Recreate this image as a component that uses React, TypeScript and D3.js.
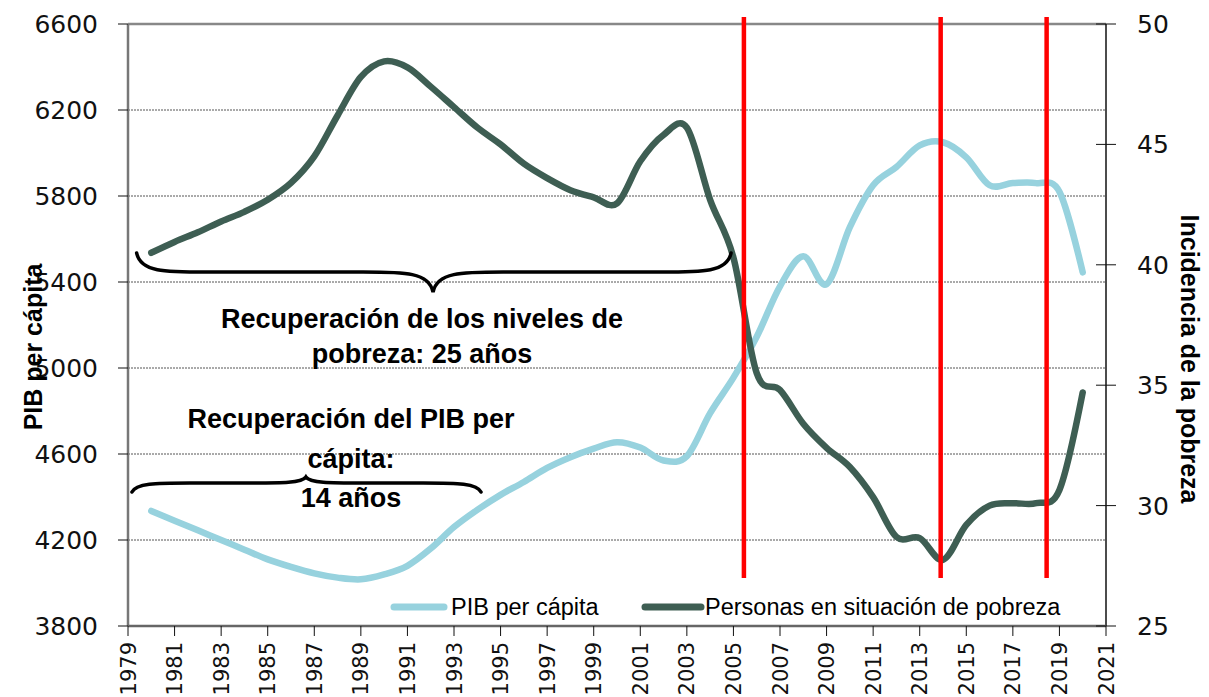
import React from 'react'
import { scaleLinear, line, curveCardinal } from 'd3'

// values
const years = [1980, 1981, 1982, 1983, 1984, 1985, 1986, 1987, 1988, 1989, 1990, 1991, 1992, 1993, 1994, 1995, 1996, 1997, 1998, 1999, 2000, 2001, 2002, 2003, 2004, 2005, 2006, 2007, 2008, 2009, 2010, 2011, 2012, 2013, 2014, 2015, 2016, 2017, 2018, 2019, 2020]
const pibPerCapita = [4335, 4290, 4245, 4200, 4155, 4110, 4075, 4045, 4025, 4017, 4040, 4080, 4160, 4260, 4340, 4410, 4470, 4535, 4585, 4625, 4655, 4630, 4570, 4590, 4790, 4955, 5145, 5380, 5520, 5390, 5655, 5850, 5935, 6035, 6050, 5980, 5850, 5860, 5860, 5820, 5445]
const pobreza = [40.5, 40.95, 41.35, 41.8, 42.2, 42.7, 43.4, 44.5, 46.2, 47.8, 48.45, 48.2, 47.4, 46.55, 45.7, 45.0, 44.2, 43.6, 43.1, 42.8, 42.55, 44.3, 45.4, 45.7, 42.7, 40.3, 35.5, 34.8, 33.4, 32.4, 31.6, 30.35, 28.7, 28.65, 27.75, 29.2, 30.0, 30.1, 30.1, 30.65, 34.7]

const xTicks = [1979, 1981, 1983, 1985, 1987, 1989, 1991, 1993, 1995, 1997, 1999, 2001, 2003, 2005, 2007, 2009, 2011, 2013, 2015, 2017, 2019, 2021]
const leftTicks = [3800, 4200, 4600, 5000, 5400, 5800, 6200, 6600]
const rightTicks = [25, 30, 35, 40, 45, 50]
const markerYears = [2005.45, 2013.9, 2018.45]

const seriesNames = ['PIB per cápita', 'Personas en situación de pobreza']
const noteLines1 = ['Recuperación de los niveles de', 'pobreza: 25 años']
const noteLines2 = ['Recuperación del PIB per', 'cápita:', '14 años']

// braces in data units (years, PIB)
const braces = [
  { x0: 1979.37, x1: 2004.9, tip: 1992.1, yEnd: 5535, yBar: 5446, yTip: 5353 },
  { x0: 1979.17, x1: 1994.16, tip: 1986.64, yEnd: 4423, yBar: 4465, yTip: 4493 },
]

const lightBlue = '#97D2DE'
const darkGreen = '#3E5E53'

const left = 128
const right = 1106
const top = 24
const bottom = 626

export default function App() {
  const x = scaleLinear().domain([1979, 2021]).range([left, right])
  const yL = scaleLinear().domain([3800, 6600]).range([bottom, top])
  const yR = scaleLinear().domain([25, 50]).range([bottom, top])

  const pibLine = line<number>()
    .x((d, i) => x(years[i]))
    .y(d => yL(d))
    .curve(curveCardinal.tension(0))
  const povLine = line<number>()
    .x((d, i) => x(years[i]))
    .y(d => yR(d))
    .curve(curveCardinal.tension(0))

  const bracePath = (b) => {
    const x0 = x(b.x0), x1 = x(b.x1), t = x(b.tip)
    const ye = yL(b.yEnd), yb = yL(b.yBar), yt = yL(b.yTip)
    const r = Math.min(70, (t - x0) / 3)
    return `M${x0},${ye} C${x0 + 4},${yb} ${x0 + r * 0.4},${yb} ${x0 + r},${yb}` +
      ` L${t - r},${yb} C${t - r * 0.4},${yb} ${t - 4},${yb} ${t},${yt}` +
      ` C${t + 4},${yb} ${t + r * 0.4},${yb} ${t + r},${yb}` +
      ` L${x1 - r},${yb} C${x1 - r * 0.4},${yb} ${x1 - 4},${yb} ${x1},${ye}`
  }

  const tickFont = 'DejaVu Sans, Verdana, sans-serif'
  const textFont = 'Liberation Sans, Arial, sans-serif'

  return (
    <svg width={1209} height={697} style={{ position: 'absolute', left: 0, top: 0 }}>
      <rect width={1209} height={697} fill="#fff" />

      {/* gridlines */}
      {leftTicks.slice(1, -1).map(t => (
        <line key={t} x1={left} x2={right} y1={yL(t)} y2={yL(t)} stroke="#555" strokeWidth={1} strokeDasharray="2,1" />
      ))}

      {/* frame */}
      <line x1={left} x2={right} y1={top} y2={top} stroke="#888" strokeWidth={2.5} />
      <line x1={left} x2={left} y1={top} y2={bottom} stroke="#777" strokeWidth={2.5} />
      <line x1={right} x2={right} y1={top} y2={bottom} stroke="#111" strokeWidth={1.5} />
      <line x1={left} x2={right} y1={bottom} y2={bottom} stroke="#666" strokeWidth={2.5} />

      {/* left axis */}
      {leftTicks.map(t => (
        <g key={t}>
          <line x1={left - 10} x2={left} y1={yL(t)} y2={yL(t)} stroke="#111" strokeWidth={1} />
          <text x={98} y={yL(t)} dy="0.36em" textAnchor="end" fontFamily={tickFont} fontSize={25} fill="#111">{t}</text>
        </g>
      ))}

      {/* right axis */}
      {rightTicks.map(t => (
        <g key={t}>
          <line x1={right - 10} x2={right + 10} y1={yR(t)} y2={yR(t)} stroke="#111" strokeWidth={1} />
          <text x={1137} y={yR(t)} dy="0.36em" textAnchor="start" fontFamily={tickFont} fontSize={25} fill="#111">{t}</text>
        </g>
      ))}

      {/* x axis */}
      {xTicks.map(t => (
        <g key={t}>
          <line x1={x(t)} x2={x(t)} y1={bottom} y2={bottom + 10} stroke="#111" strokeWidth={1} />
          <text transform={`translate(${x(t)},642) rotate(-90)`} dy="0.36em" textAnchor="end" fontFamily={tickFont} fontSize={21} fill="#111">{t}</text>
        </g>
      ))}

      {/* axis titles */}
      <text transform="translate(33,347) rotate(-90)" dy="0.36em" textAnchor="middle" fontFamily={textFont} fontWeight="bold" fontSize={25} fill="#000">PIB per cápita</text>
      <text transform="translate(1190,359) rotate(90)" dy="0.36em" textAnchor="middle" fontFamily={textFont} fontWeight="bold" fontSize={25} fill="#000">Incidencia de la pobreza</text>

      {/* series */}
      <path d={pibLine(pibPerCapita) || ''} fill="none" stroke={lightBlue} strokeWidth={6.5} strokeLinecap="round" strokeLinejoin="round" />
      <path d={povLine(pobreza) || ''} fill="none" stroke={darkGreen} strokeWidth={6.5} strokeLinecap="round" strokeLinejoin="round" />

      {/* braces */}
      {braces.map((b, i) => (
        <path key={i} d={bracePath(b)} fill="none" stroke="#000" strokeWidth={3.5} strokeLinecap="round" />
      ))}

      {/* markers */}
      {markerYears.map(m => (
        <line key={m} x1={x(m)} x2={x(m)} y1={17} y2={578} stroke="#FF0000" strokeWidth={4.5} />
      ))}

      {/* annotations */}
      {noteLines1.map((s, i) => (
        <text key={s} x={422} y={328 + i * 35} textAnchor="middle" fontFamily={textFont} fontWeight="bold" fontSize={27} fill="#000">{s}</text>
      ))}
      {noteLines2.map((s, i) => (
        <text key={s} x={351} y={428 + i * 39.5} textAnchor="middle" fontFamily={textFont} fontWeight="bold" fontSize={27} fill="#000">{s}</text>
      ))}

      {/* legend */}
      <line x1={394} x2={444} y1={607} y2={607} stroke={lightBlue} strokeWidth={7} strokeLinecap="round" />
      <text x={451} y={615} fontFamily={textFont} fontSize={23.5} fill="#000">{seriesNames[0]}</text>
      <line x1={645} x2={701} y1={607} y2={607} stroke={darkGreen} strokeWidth={7} strokeLinecap="round" />
      <text x={705} y={615} fontFamily={textFont} fontSize={23.5} fill="#000">{seriesNames[1]}</text>
    </svg>
  )
}
